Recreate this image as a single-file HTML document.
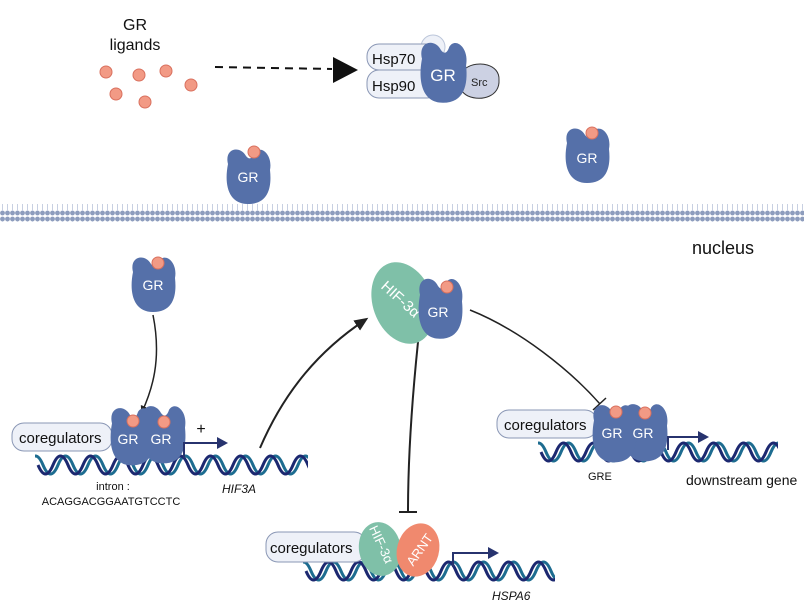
<!DOCTYPE html>
<html><head><meta charset="utf-8"><style>
body{margin:0;background:#fff}
svg{display:block;font-family:"Liberation Sans",Arial,sans-serif}
</style></head><body>
<svg width="804" height="615" viewBox="0 0 804 615" xmlns="http://www.w3.org/2000/svg">
<defs>
<path id="gr" d="M-20,-12 C-24,-28 -8,-31 -2,-20 C1,-16 4,-17 6,-23 C12,-32 25,-22 22,-6 C24,12 20,28 0,28 C-20,28 -24,8 -20,-12 Z" fill="#5570a9"/>
<g id="lig"><circle r="6" fill="#f29a85" stroke="#d9705e" stroke-width="1"/></g>
<pattern id="mem" width="5" height="18" patternUnits="userSpaceOnUse">
<circle cx="2.5" cy="3" r="2.4" fill="#8e9dbd"/><circle cx="2.5" cy="15" r="2.4" fill="#8e9dbd"/>
<line x1="2.5" y1="5" x2="2.5" y2="13" stroke="#c8d0e2" stroke-width="1"/>
</pattern>
<marker id="ah" markerWidth="8" markerHeight="8" refX="6" refY="4" orient="auto" markerUnits="userSpaceOnUse"><path d="M0,0 L8,4 L0,8 Z" fill="#222"/></marker>
<marker id="ah2" markerWidth="14" markerHeight="12" refX="10" refY="6" orient="auto" markerUnits="userSpaceOnUse"><path d="M0,0 L14,6 L0,12 Z" fill="#222"/></marker>
<clipPath id="c1"><rect x="35" y="440" width="273" height="50"/></clipPath>
<clipPath id="c2"><rect x="538" y="428" width="240" height="50"/></clipPath>
<clipPath id="c3"><rect x="303" y="546" width="252" height="50"/></clipPath>
<path id="wv" d="M0,0 q7.5,-18 15,0 t15,0 t15,0 t15,0 t15,0 t15,0 t15,0 t15,0 t15,0 t15,0 t15,0 t15,0 t15,0 t15,0 t15,0 t15,0 t15,0 t15,0 t15,0 t15,0" fill="none" stroke-width="3"/>
</defs>

<rect x="0" y="204" width="804" height="18" fill="url(#mem)"/>

<text x="135" y="30" font-size="16" text-anchor="middle" fill="#111">GR</text>
<text x="135" y="50" font-size="16" text-anchor="middle" fill="#111">ligands</text>
<use href="#lig" x="106" y="72"/><use href="#lig" x="139" y="75"/><use href="#lig" x="166" y="71"/>
<use href="#lig" x="116" y="94"/><use href="#lig" x="145" y="102"/><use href="#lig" x="191" y="85"/>
<line x1="215" y1="67" x2="332" y2="69" stroke="#111" stroke-width="2" stroke-dasharray="8,6"/>
<path d="M333,57 L358,70 L333,83 Z" fill="#111"/>

<circle cx="433" cy="47" r="12" fill="#eef1f8" stroke="#bcc6da"/>
<rect x="367" y="44" width="72" height="26" rx="12" fill="#eef1f8" stroke="#8a97b5"/>
<rect x="367" y="70" width="72" height="28" rx="12" fill="#eef1f8" stroke="#8a97b5"/>
<text x="372" y="64" font-size="15" fill="#111">Hsp70</text>
<text x="372" y="91" font-size="15" fill="#111">Hsp90</text>
<path d="M466,68 C478,60 500,64 499,80 C500,96 482,102 468,96 C456,90 455,74 466,68 Z" fill="#ccd1e3" stroke="#333" stroke-width="1"/>
<text x="471" y="86" font-size="11" fill="#222">Src</text>
<g transform="translate(443,72) scale(1.05,1.1)"><use href="#gr"/></g>
<text x="443" y="81" font-size="17" fill="#fff" text-anchor="middle">GR</text>

<use href="#gr" x="248" y="176"/><use href="#lig" x="254" y="152"/>
<text x="248" y="182" font-size="14" fill="#fff" text-anchor="middle">GR</text>
<use href="#gr" x="587" y="155"/><use href="#lig" x="592" y="133"/>
<text x="587" y="163" font-size="14" fill="#fff" text-anchor="middle">GR</text>

<text x="692" y="254" font-size="18" fill="#111">nucleus</text>

<use href="#gr" x="153" y="284"/><use href="#lig" x="158" y="263"/>
<text x="153" y="290" font-size="14" fill="#fff" text-anchor="middle">GR</text>

<path d="M153,315 C162,360 152,390 142,412" fill="none" stroke="#222" stroke-width="1.5" marker-end="url(#ah)"/>
<path d="M260,448 C285,390 320,350 365,320" fill="none" stroke="#222" stroke-width="2" marker-end="url(#ah2)"/>
<path d="M418,342 C412,400 408,460 408,512" fill="none" stroke="#222" stroke-width="2"/>
<line x1="399" y1="512" x2="417" y2="512" stroke="#222" stroke-width="2"/>
<path d="M470,310 C520,330 570,370 600,404" fill="none" stroke="#222" stroke-width="1.5"/>
<line x1="593" y1="410" x2="606" y2="398" stroke="#222" stroke-width="1.5"/>

<ellipse cx="403" cy="303" rx="30" ry="42" transform="rotate(-20 403 303)" fill="#7fc0a8"/>
<text x="400" y="304" font-size="15" fill="#fff" text-anchor="middle" transform="rotate(42 400 300)">HIF-3α</text>
<g transform="translate(440,308) scale(1,1.1)"><use href="#gr"/></g>
<use href="#lig" x="447" y="287"/>
<text x="438" y="317" font-size="14" fill="#fff" text-anchor="middle">GR</text>

<g clip-path="url(#c1)">
<use href="#wv" x="28" y="465" stroke="#1d6c90"/>
<use href="#wv" x="38" y="465" stroke="#1c2870" transform="translate(0,930) scale(1,-1)"/>
</g>
<g clip-path="url(#c2)">
<use href="#wv" x="531" y="452" stroke="#1d6c90"/>
<use href="#wv" x="541" y="452" stroke="#1c2870" transform="translate(0,904) scale(1,-1)"/>
</g>
<g clip-path="url(#c3)">
<use href="#wv" x="296" y="571" stroke="#1d6c90"/>
<use href="#wv" x="306" y="571" stroke="#1c2870" transform="translate(0,1142) scale(1,-1)"/>
</g>

<rect x="12" y="423" width="100" height="28" rx="12" fill="#eef1f8" stroke="#8a97b5"/>
<text x="19" y="443" font-size="15" fill="#111">coregulators</text>
<g transform="translate(163,434) scale(1,1.05)"><use href="#gr"/></g>
<g transform="translate(132,436) scale(1,1.05)"><use href="#gr"/></g>
<use href="#lig" x="133" y="421"/><use href="#lig" x="164" y="422"/>
<text x="128" y="444" font-size="14" fill="#fff" text-anchor="middle">GR</text>
<text x="161" y="444" font-size="14" fill="#fff" text-anchor="middle">GR</text>
<text x="201" y="434" font-size="16" fill="#111" text-anchor="middle">+</text>
<path d="M184,458 L184,443 L220,443" fill="none" stroke="#27336e" stroke-width="2"/>
<path d="M217,437 L228,443 L217,449 Z" fill="#27336e"/>
<text x="113" y="490" font-size="11" fill="#111" text-anchor="middle">intron :</text>
<text x="111" y="505" font-size="11" fill="#111" text-anchor="middle">ACAGGACGGAATGTCCTC</text>
<text x="222" y="493" font-size="12" font-style="italic" fill="#111">HIF3A</text>

<rect x="497" y="410" width="100" height="28" rx="12" fill="#eef1f8" stroke="#8a97b5"/>
<text x="504" y="430" font-size="15" fill="#111">coregulators</text>
<g transform="translate(645,432) scale(1,1.05)"><use href="#gr"/></g>
<g transform="translate(614,433) scale(1,1.05)"><use href="#gr"/></g>
<use href="#lig" x="616" y="412"/><use href="#lig" x="645" y="413"/>
<text x="612" y="438" font-size="14" fill="#fff" text-anchor="middle">GR</text>
<text x="643" y="438" font-size="14" fill="#fff" text-anchor="middle">GR</text>
<path d="M668,450 L668,437 L700,437" fill="none" stroke="#27336e" stroke-width="2"/>
<path d="M698,431 L709,437 L698,443 Z" fill="#27336e"/>
<text x="588" y="480" font-size="11" fill="#111">GRE</text>
<text x="686" y="485" font-size="14" fill="#111">downstream gene</text>

<rect x="266" y="532" width="100" height="30" rx="12" fill="#eef1f8" stroke="#8a97b5"/>
<text x="270" y="553" font-size="15" fill="#111">coregulators</text>
<ellipse cx="380" cy="549" rx="21" ry="27" transform="rotate(-10 380 549)" fill="#7fc0a8"/>
<text x="380" y="548" font-size="13" fill="#fff" text-anchor="middle" transform="rotate(65 380 545)">HIF-3α</text>
<ellipse cx="418" cy="550" rx="21" ry="27" transform="rotate(15 418 550)" fill="#f0896e"/>
<text x="420" y="554" font-size="13" fill="#fff" text-anchor="middle" transform="rotate(-55 420 550)">ARNT</text>
<path d="M453,567 L453,553 L490,553" fill="none" stroke="#27336e" stroke-width="2"/>
<path d="M488,547 L499,553 L488,559 Z" fill="#27336e"/>
<text x="492" y="600" font-size="12" font-style="italic" fill="#111">HSPA6</text>
</svg>
</body></html>
